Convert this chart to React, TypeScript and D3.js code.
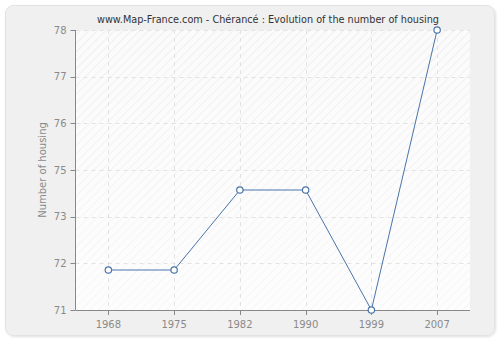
import React from "react";
import * as d3 from "d3";

const years = ["1968", "1975", "1982", "1990", "1999", "2007"];
const housing = [72, 72, 74, 74, 71, 78];
const yDomain = [71, 78];
const yTickCount = 6; // intervals
const title = "www.Map-France.com - Chérancé : Evolution of the number of housing";
const yLabel = "Number of housing";

const W = 500;
const H = 340;
const plot = { left: 75.5, right: 470, top: 30, bottom: 310 };

export default function App() {
  const x = d3
    .scaleBand<string>()
    .domain(years)
    .range([plot.left, plot.right]);
  const xc = (d: string) => (x(d) as number) + x.bandwidth() / 2;
  const y = d3.scaleLinear().domain(yDomain).range([plot.bottom, plot.top]);
  const step = (yDomain[1] - yDomain[0]) / yTickCount;
  const yTicks = d3.range(yTickCount + 1).map((i) => yDomain[0] + i * step);

  const line = d3
    .line<number>()
    .x((_, i) => xc(years[i]))
    .y((d) => y(d));

  const font = "DejaVu Sans, Verdana, sans-serif";
  const axisColor = "#888";
  const tickText = "#8a8a8a";
  const lineColor = "#4a74aa";

  return (
    <svg
      width={W}
      height={H}
      style={{ position: "absolute", left: 0, top: 0, display: "block" }}
    >
      <defs>
        <pattern
          id="hatch"
          patternUnits="userSpaceOnUse"
          width={6}
          height={6}
          patternTransform="rotate(45)"
        >
          <rect width={6} height={6} fill="#fbfbfb" />
          <line x1={0} y1={0} x2={0} y2={6} stroke="#ececec" strokeWidth={1.5} />
        </pattern>
        <linearGradient id="fade" x1="0" y1="0" x2="0" y2="1">
          <stop offset="0" stopColor="#ffffff" stopOpacity={0} />
          <stop offset="1" stopColor="#ffffff" stopOpacity={0.5} />
        </linearGradient>
        <filter id="shadow" x="-5%" y="-5%" width="110%" height="110%">
          <feDropShadow dx="1" dy="1" stdDeviation="1.2" floodColor="#000" floodOpacity="0.12" />
        </filter>
      </defs>
      <rect x={0} y={0} width={W} height={H} fill="#ffffff" />
      <rect
        x={5.5}
        y={5.5}
        width={489}
        height={330}
        rx={8}
        ry={8}
        fill="#f0f0f0"
        stroke="#e2e2e2"
        strokeWidth={1}
        filter="url(#shadow)"
      />
      <rect
        x={plot.left}
        y={plot.top}
        width={plot.right - plot.left}
        height={plot.bottom - plot.top}
        fill="url(#hatch)"
      />
      <rect
        x={plot.left}
        y={plot.top}
        width={plot.right - plot.left}
        height={plot.bottom - plot.top}
        fill="url(#fade)"
      />
      {/* grid */}
      {yTicks.slice(1).map((t, i) => (
        <line
          key={"gy" + i}
          x1={plot.left}
          x2={plot.right}
          y1={Math.round(y(t)) + 0.5}
          y2={Math.round(y(t)) + 0.5}
          stroke="#e2e2e2"
          strokeDasharray="4,4"
        />
      ))}
      {years.map((yr) => (
        <line
          key={"gx" + yr}
          x1={Math.round(xc(yr)) + 0.5}
          x2={Math.round(xc(yr)) + 0.5}
          y1={plot.top}
          y2={plot.bottom}
          stroke="#e2e2e2"
          strokeDasharray="4,4"
        />
      ))}
      {/* axes */}
      <line x1={plot.left} x2={plot.left} y1={plot.top} y2={plot.bottom} stroke={axisColor} />
      <line x1={plot.left} x2={plot.right} y1={plot.bottom + 0.5} y2={plot.bottom + 0.5} stroke={axisColor} />
      {yTicks.map((t, i) => (
        <g key={"ty" + i}>
          <line
            x1={plot.left - 5}
            x2={plot.left}
            y1={Math.round(y(t)) + 0.5}
            y2={Math.round(y(t)) + 0.5}
            stroke={axisColor}
          />
          <text
            x={plot.left - 9}
            y={y(t)}
            dy="0.35em"
            textAnchor="end"
            fontFamily={font}
            fontSize={10}
            fill={tickText}
          >
            {d3.format(".0f")(t)}
          </text>
        </g>
      ))}
      {years.map((yr) => (
        <g key={"tx" + yr}>
          <line
            x1={Math.round(xc(yr)) + 0.5}
            x2={Math.round(xc(yr)) + 0.5}
            y1={plot.bottom}
            y2={plot.bottom + 5}
            stroke={axisColor}
          />
          <text
            x={xc(yr)}
            y={plot.bottom + 18}
            textAnchor="middle"
            fontFamily={font}
            fontSize={10}
            fill={tickText}
          >
            {yr}
          </text>
        </g>
      ))}
      <text
        transform={`translate(46,${(plot.top + plot.bottom) / 2}) rotate(-90)`}
        textAnchor="middle"
        fontFamily={font}
        fontSize={10}
        fill={tickText}
      >
        {yLabel}
      </text>
      <text
        x={268}
        y={23}
        textAnchor="middle"
        fontFamily={font}
        fontSize={10.5}
        textLength={342}
        lengthAdjust="spacingAndGlyphs"
        fill="#333"
      >
        {title}
      </text>
      <path d={line(housing) || ""} fill="none" stroke={lineColor} strokeWidth={1} />
      {housing.map((v, i) => (
        <circle
          key={"p" + i}
          cx={xc(years[i])}
          cy={y(v)}
          r={3.2}
          fill="#fff"
          stroke={lineColor}
          strokeWidth={1.2}
        />
      ))}
    </svg>
  );
}
